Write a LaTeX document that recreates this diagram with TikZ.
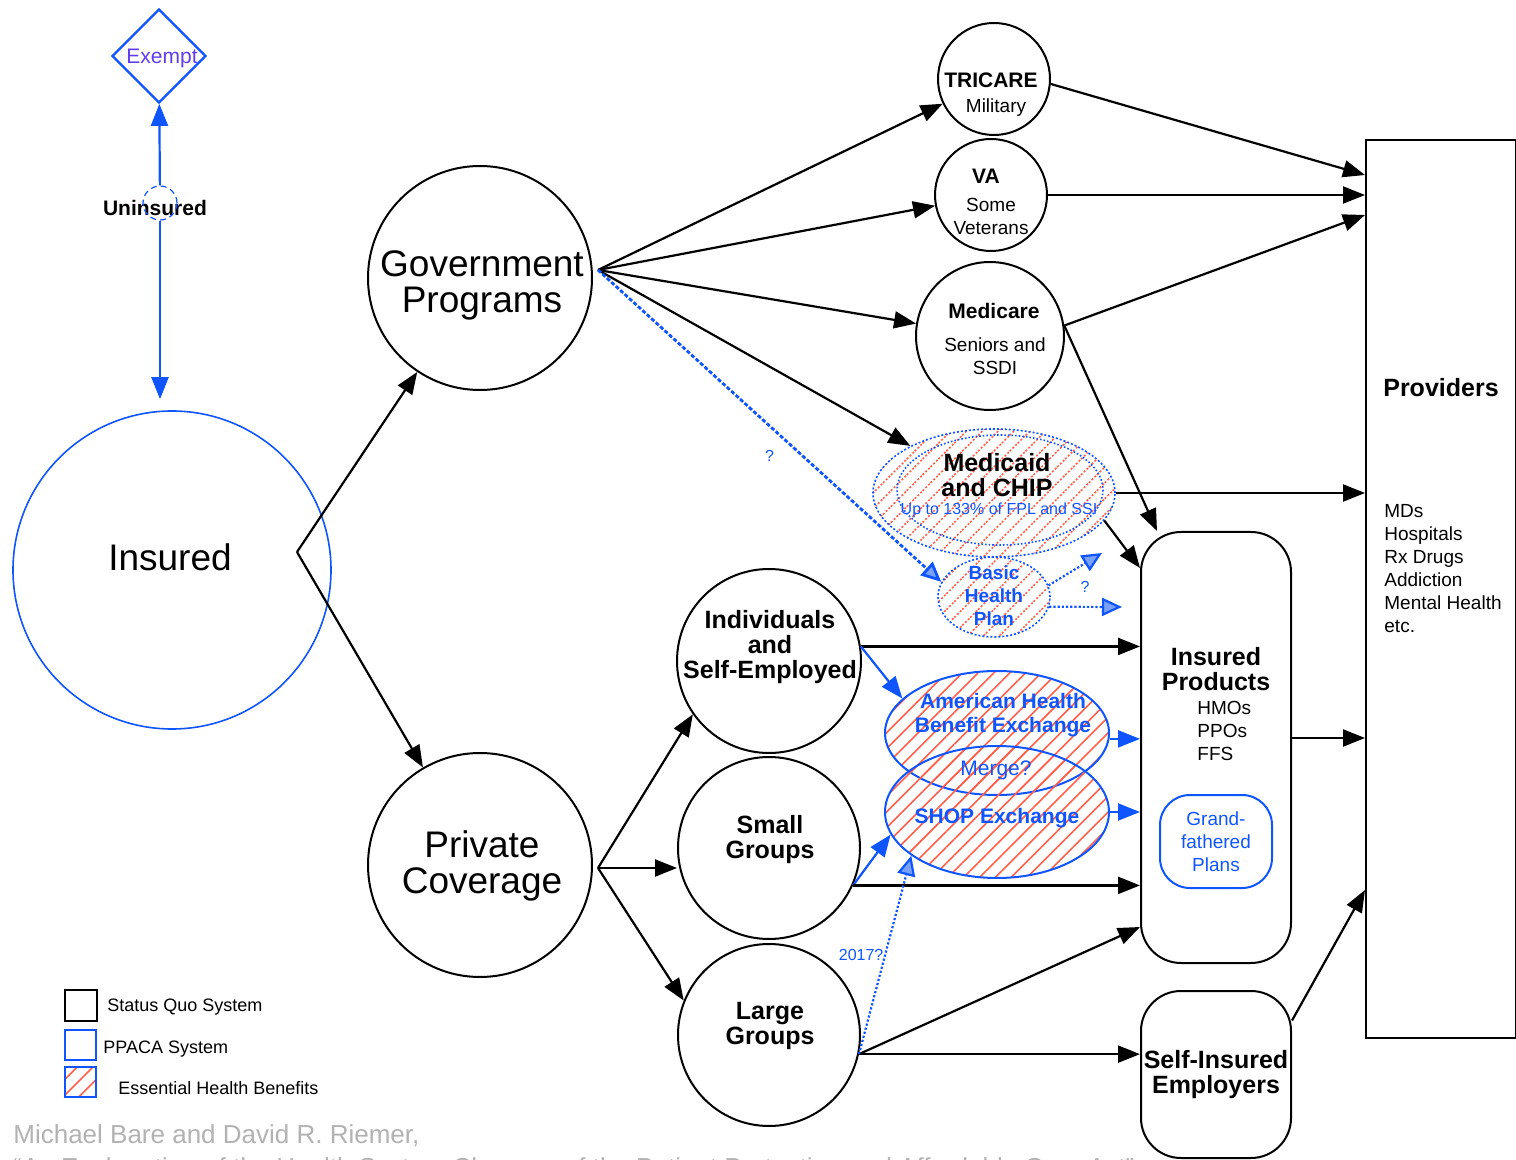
\documentclass[tikz,border=0pt]{standalone}
\usepackage{fontspec}
\setmainfont{Liberation Sans}
\usetikzlibrary{arrows.meta,shapes.geometric,patterns.meta}
\definecolor{ppblue}{RGB}{15,85,255}
\definecolor{hatchred}{RGB}{255,95,75}
\definecolor{credgray}{RGB}{178,178,178}
\definecolor{exviolet}{RGB}{95,60,240}
\newcommand\fbig{\fontsize{18.5}{18}\selectfont}
\newcommand\fhead{\bfseries\fontsize{12.5}{12.5}\selectfont}
\newcommand\fmid{\fontsize{10.5}{12}\selectfont}
\newcommand\fsm{\fontsize{9.5}{11.5}\selectfont}
\newcommand\ftiny{\fontsize{8}{9}\selectfont}
\tikzset{
  circ/.style={circle,draw,line width=1pt,inner sep=0pt},
  oval/.style={ellipse,draw=ppblue,line width=1pt,inner sep=0pt},
  ebh/.style={pattern={Lines[angle=45,distance=5.6pt,line width=0.8pt]},pattern color=hatchred},
  box/.style={rectangle,draw,line width=1pt,rounded corners=20pt,inner sep=0pt,align=center},
  txt/.style={inner sep=0pt,align=center},
  ar/.style={-{Triangle[length=11pt,width=8.5pt]},line width=1.1pt},
  bar/.style={ar,ppblue},
  qar/.style={-{Triangle[length=10pt,width=9pt,fill=ppblue!55]},ppblue,line width=1.1pt,densely dotted},
}
\begin{document}
\begin{tikzpicture}[x=0.5pt,y=-0.5pt]
\useasboundingbox (0,0) rectangle (1516,1160);

\node[diamond,draw=ppblue,line width=1.2pt,minimum width=47pt,minimum height=47pt,inner sep=0pt] (ex) at (159,56) {};
\node[txt,font=\fmid,text=exviolet] (ex-t) at (162,58) {Exempt};
\node[txt,font=\fmid\bfseries] (unins) at (155,208) {Uninsured};
\node[circle,draw=ppblue,densely dashed,line width=0.6pt,minimum size=17pt,inner sep=0pt] (unc) at (160,203) {};
\node[circ,draw=ppblue,line width=0.8pt,minimum size=159pt] (ins) at (172,570) {};
\node[txt,font=\fbig] (ins-t) at (170,557) {Insured};

\node[circ,minimum size=112pt] (gov) at (480,278) {};
\node[txt,font=\fbig] (gov-t) at (482,285) {Government\\Programs};
\node[circ,minimum size=112pt] (priv) at (480,865) {};
\node[txt,font=\fbig] (priv-t) at (482,866) {Private\\Coverage};

\node[circ,minimum size=56pt] (tri) at (994,79) {};
\node[txt,font=\fmid\bfseries] (tri-t) at (991,80) {TRICARE};
\node[txt,font=\fsm] (tri-s) at (996,108) {Military};
\node[circ,minimum size=56pt] (va) at (991,195) {};
\node[txt,font=\fmid\bfseries] (va-t) at (986,176) {VA};
\node[txt,font=\fsm] (va-s) at (991,216) {Some\\Veterans};
\node[circ,minimum size=74pt] (med) at (990,336) {};
\node[txt,font=\fmid\bfseries] (med-t) at (994,311) {Medicare};
\node[txt,font=\fsm] (med-s) at (995,356) {Seniors and\\SSDI};

\node[oval,ebh,densely dotted,line width=0.8pt,minimum width=121pt,minimum height=64pt] (mcd) at (994,493) {};
\draw[ppblue,densely dotted,line width=0.8pt] (1000,490) ellipse [x radius=103,y radius=55];
\node[txt,font=\fhead] (mcd-t) at (997,475) {Medicaid\\and CHIP};
\node[txt,font=\ftiny,text=ppblue] (mcd-s) at (999,510) {Up to 133\% of FPL and SSI};
\node[oval,ebh,densely dotted,line width=0.8pt,minimum width=56pt,minimum height=40pt] (bhp) at (994,597) {};
\node[txt,font=\fsm\bfseries,text=ppblue] (bhp-t) at (994,596) {Basic\\Health\\Plan};

\node[circ,minimum size=92pt] (ind) at (769,661) {};
\node[txt,font=\fhead] (ind-t) at (770,647) {Individuals\\and\\Self-Employed};
\node[circ,minimum size=91pt] (small) at (769,848) {};
\node[txt,font=\fhead] (small-t) at (770,840) {Small\\Groups};
\node[circ,minimum size=91pt] (large) at (769,1035) {};
\node[txt,font=\fhead] (large-t) at (770,1026) {Large\\Groups};

\node[oval,ebh,minimum width=112pt,minimum height=62pt] (ahbe) at (997,733) {};
\node[oval,ebh,minimum width=112pt,minimum height=66pt] (shop) at (997,812) {};
\node[txt,font=\fmid\bfseries,text=ppblue] (ahbe-t) at (1003,715) {American Health\\Benefit Exchange};
\node[txt,font=\fmid,text=ppblue] (merge) at (996,770) {Merge?};
\node[txt,font=\fmid\bfseries,text=ppblue] (shop-t) at (997,818) {SHOP Exchange};

\node[box,minimum width=75pt,minimum height=215.5pt] (prod) at (1216,747.5) {};
\node[txt,font=\fhead] (prod-t) at (1216,669) {Insured\\Products};
\node[txt,font=\fsm,align=left,anchor=west] (prod-s) at (1197,731) {HMOs\\PPOs\\FFS};
\node[box,draw=ppblue,rounded corners=15pt,minimum width=56pt,minimum height=46.5pt,font=\fsm,text=ppblue] (gfp) at (1216,841.5) {Grand-\\fathered\\Plans};
\node[box,minimum width=75pt,minimum height=83.5pt,font=\fhead] (self) at (1216,1074.5) {Self-Insured\\Employers};
\node[rectangle,draw,line width=1pt,minimum width=75pt,minimum height=449pt] (prov) at (1441,589) {};
\node[txt,font=\fhead] (prov-t) at (1441,388) {Providers};
\node[txt,font=\fsm,align=left,anchor=west] (prov-s) at (1384,569) {MDs\\Hospitals\\Rx Drugs\\Addiction\\Mental Health\\etc.};

\coordinate (insplit) at (297,552);
\coordinate (govsplit) at (598,270);
\coordinate (privsplit) at (598,868);
\coordinate (bhpup) at (1102,553);
\coordinate (bhpright) at (1122,607);

\draw[bar] (unc) -- (ex);
\draw[bar,shorten >=5.5pt] (unc) -- (unc |- ins.north);
\draw[ar] (insplit) -- (gov);
\draw[ar] (insplit) -- (priv);
\foreach \n in {tri,va,med,mcd}
  \draw[ar] (govsplit) -- (\n);
\draw[qar,line width=1.4pt,dash pattern=on 2pt off 1pt] (govsplit) -- (bhp.164) node[midway,yshift=-15pt,font=\ftiny,text=ppblue] {?};
\draw[qar] (bhp.12) -- (bhpup);
\draw[qar] (bhp.-10) -- (bhpright);
\node[txt,font=\ftiny,text=ppblue] (bhp-q) at (1085,587) {?};

\draw[ar] (privsplit) -- (ind.215);
\draw[ar] (privsplit) -- (privsplit -| small.west);
\draw[ar] (privsplit) -- (large.158);

\draw[ar] (tri.-5) -- (prov.west |- 0,175);
\draw[ar] (va.east) -- (va.east -| prov.west);
\draw[ar] (med.8) -- (prov.west |- 0,215);
\draw[ar] (med.8) -- ([xshift=8.5pt]prod.north west);
\draw[ar] (mcd.east) -- (mcd.east -| prov.west);
\draw[ar] (mcd.-14) -- (prod.west |- 0,568);
\draw[ar] (ind.9) -- (ind.9 -| prod.west);
\draw[bar] (ind.9) -- (ahbe.160);
\draw[bar] (ahbe.-3) -- (ahbe.-3 -| prod.west);
\draw[bar] (shop.east) -- (shop.east -| prod.west);
\draw[bar] (small.-24) -- (shop.192);
\draw[ar] (small.-24) -- (small.-24 -| prod.west);
\draw[ar] (large.-12) -- (prod.west |- 0,927);
\draw[ar] (large.-12) -- (large.-12 -| self.west);
\draw[qar] (large.-12) -- (shop.207) node[pos=0.5,xshift=-12pt,font=\ftiny,text=ppblue] {2017?};
\draw[ar] (prod.east |- 0,738) -- (prov.west |- 0,738);
\draw[ar] ([yshift=27pt]self.east) -- (prov.west |- 0,890);

\draw[line width=1pt] (65,990) rectangle (97,1021);
\draw[ppblue,line width=1pt] (65,1030) rectangle (96,1060);
\draw[ppblue,line width=1pt,ebh] (65,1067) rectangle (96,1097);
\node[txt,anchor=west,font=\fontsize{9}{10}\selectfont] (leg1) at (107,1007) {Status Quo System};
\node[txt,anchor=west,font=\fontsize{9}{10}\selectfont] (leg2) at (103,1049) {PPACA System};
\node[txt,anchor=west,font=\fontsize{9}{10}\selectfont] (leg3) at (118,1088) {Essential Health Benefits};

\node[txt,anchor=west,text=credgray,font=\fontsize{13}{14}\selectfont] (cred1) at (13,1136) {Michael Bare and David R. Riemer,};
\node[txt,anchor=west,text=credgray,font=\fontsize{13}{14}\selectfont] (cred2) at (13,1170) {“An Explanation of the Health System Changes of the Patient Protection and Affordable Care Act”};
\end{tikzpicture}
\end{document}
